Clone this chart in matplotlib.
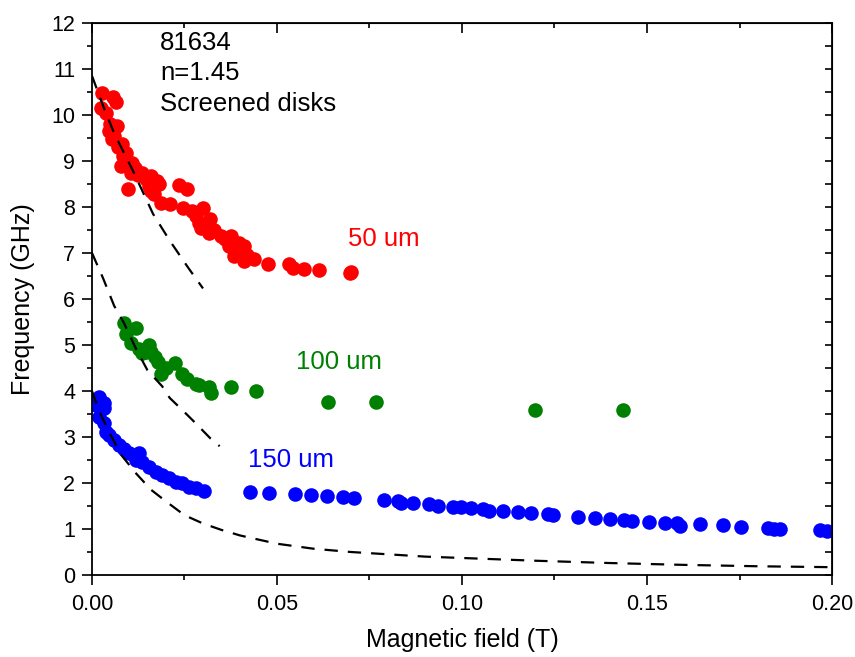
import matplotlib
matplotlib.use('Agg')
import matplotlib.pyplot as plt

plt.rcParams['font.family'] = ['Liberation Sans', 'DejaVu Sans']

# 50 um disks
red_x = [0.0027, 0.0057, 0.0065, 0.0024, 0.0038, 0.0046, 0.0068, 0.0054, 0.0080, 0.0092,
         0.0078, 0.0108, 0.0105, 0.0135, 0.0160, 0.0175, 0.0097, 0.0160, 0.0168, 0.0235,
         0.0257, 0.0180, 0.0186, 0.0211, 0.0246, 0.0270, 0.0300, 0.0295, 0.0320, 0.0316,
         0.0349, 0.0376, 0.0370, 0.0397, 0.0410, 0.0384, 0.0403, 0.0410, 0.0438, 0.0476,
         0.0532, 0.0543, 0.0573, 0.0614, 0.0697, 0.0700,
         0.0060, 0.0070, 0.0085, 0.0050, 0.0088, 0.0115, 0.0125, 0.0145, 0.0155,
         0.0280, 0.0290, 0.0310, 0.0330, 0.0360, 0.0380, 0.0390, 0.0420]
red_y = [10.48, 10.39, 10.28, 10.15, 10.04, 9.65, 9.76, 9.48, 9.37, 9.18,
         8.89, 8.96, 8.74, 8.74, 8.68, 8.57, 8.40, 8.35, 8.29, 8.48,
         8.39, 8.50, 8.09, 8.07, 7.98, 7.92, 7.98, 7.55, 7.74, 7.44,
         7.38, 7.38, 7.16, 7.22, 7.16, 6.94, 7.00, 6.83, 6.88, 6.77,
         6.77, 6.68, 6.66, 6.62, 6.57, 6.59,
         9.55, 9.30, 9.10, 9.80, 8.95, 8.85, 8.70, 8.60, 8.45,
         7.80, 7.65, 7.60, 7.50, 7.30, 7.10, 7.00, 6.95]

# 100 um disks
green_x = [0.0086, 0.0119, 0.0092, 0.0105, 0.0127, 0.0154, 0.0160, 0.0135, 0.0170, 0.0178,
           0.0186, 0.0200, 0.0224, 0.0243, 0.0257, 0.0280, 0.0290, 0.0316, 0.0322, 0.0376,
           0.0443, 0.0638, 0.0767, 0.1197, 0.1435, 0.0145]
green_y = [5.47, 5.38, 5.25, 5.05, 4.92, 4.99, 4.84, 4.82, 4.73, 4.62,
           4.38, 4.49, 4.60, 4.38, 4.27, 4.16, 4.14, 4.08, 3.95, 4.08,
           3.99, 3.77, 3.77, 3.58, 3.58, 4.85]

# 150 um disks
blue_x = [0.0019, 0.0032, 0.0011, 0.0032, 0.0019, 0.0032, 0.0038, 0.0046, 0.0059, 0.0073,
          0.0086, 0.0100, 0.0127, 0.0119, 0.0135, 0.0154, 0.0173, 0.0189, 0.0208, 0.0227,
          0.0243, 0.0262, 0.0280, 0.0303,
          0.0427, 0.0478, 0.0549, 0.0592, 0.0635, 0.0678, 0.0708, 0.0789, 0.0827, 0.0835,
          0.0868, 0.0910, 0.0935, 0.0976, 0.0997, 0.1024, 0.1057, 0.1073, 0.1111, 0.1151,
          0.1186, 0.1232, 0.1246, 0.1314, 0.1359, 0.1400, 0.1438, 0.1460, 0.1505, 0.1550,
          0.1580, 0.1590, 0.1643, 0.1705, 0.1754, 0.1827, 0.1843, 0.1860, 0.1968, 0.1986]
blue_y = [3.86, 3.75, 3.69, 3.62, 3.43, 3.30, 3.10, 3.04, 2.93, 2.82,
          2.75, 2.65, 2.65, 2.49, 2.45, 2.34, 2.23, 2.17, 2.10, 2.02,
          2.00, 1.91, 1.89, 1.83,
          1.80, 1.79, 1.76, 1.74, 1.71, 1.69, 1.67, 1.63, 1.61, 1.56,
          1.56, 1.54, 1.50, 1.48, 1.48, 1.45, 1.43, 1.40, 1.40, 1.37,
          1.34, 1.32, 1.30, 1.27, 1.24, 1.21, 1.19, 1.17, 1.15, 1.13,
          1.13, 1.07, 1.11, 1.08, 1.05, 1.03, 1.01, 0.99, 0.98, 0.96]

# model curves (dashed)
fit50_x = [0, 0.003, 0.006, 0.011, 0.0165, 0.021, 0.026, 0.030]
fit50_y = [10.85, 10.2, 9.6, 8.8, 7.85, 7.27, 6.68, 6.23]
fit100_x = [0, 0.003, 0.006, 0.0085, 0.012, 0.015, 0.019, 0.021, 0.025, 0.028, 0.032, 0.0345]
fit100_y = [7.0, 6.45, 5.85, 5.5, 4.9, 4.45, 4.1, 3.85, 3.54, 3.3, 2.97, 2.8]
fit150_x = [0, 0.002, 0.005, 0.008, 0.012, 0.016, 0.020, 0.025, 0.030, 0.035, 0.040,
            0.050, 0.060, 0.070, 0.080, 0.090, 0.100, 0.120, 0.140, 0.160, 0.180, 0.200]
fit150_y = [4.0, 3.55, 3.05, 2.6, 2.2, 1.85, 1.6, 1.3, 1.12, 0.98, 0.86,
            0.68, 0.57, 0.50, 0.45, 0.40, 0.37, 0.31, 0.26, 0.22, 0.19, 0.17]

fig = plt.figure(figsize=(8.55, 6.57), dpi=100)
ax = fig.add_axes([0.1076, 0.1248, 0.8655, 0.8402])

ax.plot(red_x, red_y, 'o', color='#ff0000', ms=10.5, mec='none')
ax.plot(green_x, green_y, 'o', color='#008000', ms=10.5, mec='none')
ax.plot(blue_x, blue_y, 'o', color='#0000ff', ms=10.5, mec='none')

for fx, fy in [(fit50_x, fit50_y), (fit100_x, fit100_y), (fit150_x, fit150_y)]:
    ax.plot(fx, fy, color='black', lw=1.6, dashes=(6, 4.5))

ax.set_xlim(0, 0.2)
ax.set_ylim(0, 12)
ax.set_xticks([0, 0.05, 0.10, 0.15, 0.20])
ax.set_xticklabels(['0.00', '0.05', '0.10', '0.15', '0.20'])
ax.set_xticks([0.025, 0.075, 0.125, 0.175], minor=True)
ax.set_yticks(range(0, 13))
ax.set_yticks([i + 0.5 for i in range(12)], minor=True)
ax.tick_params(which='major', direction='out', length=7, width=1.2, labelsize=15.5)
ax.tick_params(axis='x', which='major', pad=7)
ax.tick_params(axis='y', which='major', pad=5)
ax.tick_params(which='minor', direction='out', length=3.5, width=1.2)
for s in ax.spines.values():
    s.set_linewidth(1.3)

# inward ticks on top and right
top = ax.secondary_xaxis('top')
top.set_xticks([0, 0.05, 0.10, 0.15, 0.20])
top.set_xticks([0.025, 0.075, 0.125, 0.175], minor=True)
top.tick_params(which='major', direction='in', length=7, width=1.2, labeltop=False)
top.tick_params(which='minor', direction='in', length=3.5, width=1.2)
right = ax.secondary_yaxis('right')
right.set_yticks(range(0, 13))
right.set_yticks([i + 0.5 for i in range(12)], minor=True)
right.tick_params(which='major', direction='in', length=5, width=1.2, labelright=False)
right.tick_params(which='minor', direction='in', length=5, width=1.2)

ax.set_xlabel('Magnetic field (T)', fontsize=18, labelpad=9)
ax.set_ylabel('Frequency (GHz)', fontsize=18, labelpad=12)

ax.text(0.0184, 11.56, '81634', fontsize=18.5, va='center')
ax.text(0.0184, 10.91, 'n=1.45', fontsize=18.5, va='center')
ax.text(0.0184, 10.24, 'Screened disks', fontsize=18.5, va='center')
ax.text(0.0692, 7.31, '50 um', fontsize=18.5, va='center', color='#ff0000')
ax.text(0.0551, 4.62, '100 um', fontsize=18.5, va='center', color='#008000')
ax.text(0.0422, 2.49, '150 um', fontsize=18.5, va='center', color='#0000ff')

fig.savefig('out.png', dpi=100)
